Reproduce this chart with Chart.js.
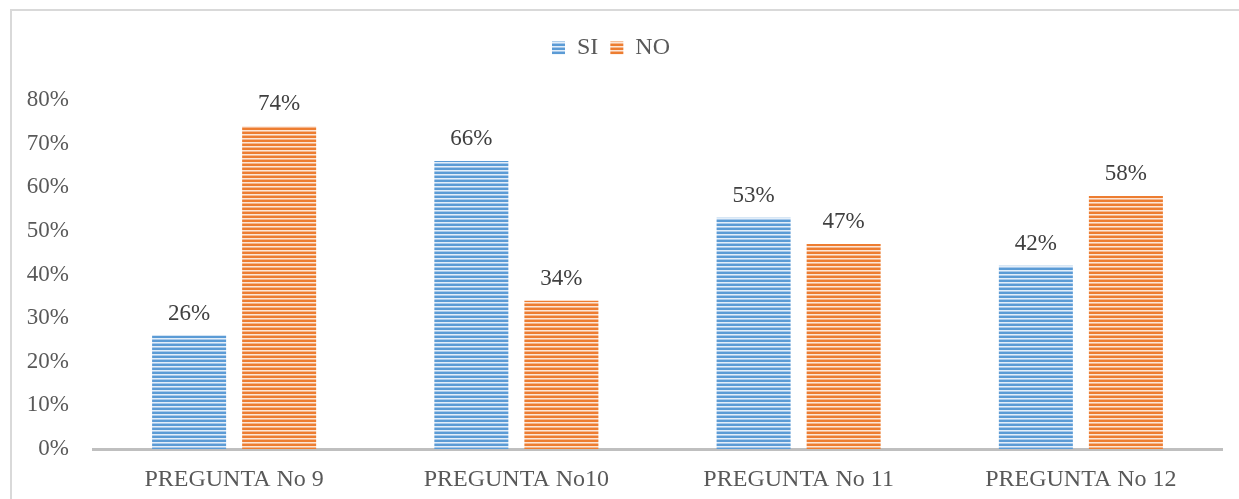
<!DOCTYPE html>
<html>
<head>
<meta charset="utf-8">
<script src="https://cdn.jsdelivr.net/npm/chart.js@4.4.1/dist/chart.umd.min.js"></script>
<style>
  html, body { margin: 0; padding: 0; background: #fff; overflow: hidden; }
  #frame {
    position: absolute; left: 10px; top: 9px; width: 1300px; height: 600px;
    border-left: 2px solid #d9d9d9; border-top: 2px solid #d9d9d9;
  }
  #wrap { position: absolute; left: 0; top: 0; width: 1239px; height: 499px; }
</style>
</head>
<body>
<div id="frame"></div>
<div id="wrap"><canvas id="chart"></canvas></div>
<script>
// --- Data ---
const categories = ['PREGUNTA No 9', 'PREGUNTA No10', 'PREGUNTA No 11', 'PREGUNTA No 12'];
const siValues = [26, 66, 53, 42];
const noValues = [74, 34, 47, 58];
const yTicks = [0, 10, 20, 30, 40, 50, 60, 70, 80];

const serif = '"Liberation Serif", "Times New Roman", serif';

/**
 * Builds a horizontal striped fill like the Excel pattern.
 */
function stripes(dark, mid, light) {
    const c = document.createElement('canvas');
    c.width = 4;
    c.height = 4;
    const g = c.getContext('2d');
    g.fillStyle = dark;
    g.fillRect(0, 0, 4, 2);
    g.fillStyle = light;
    g.fillRect(0, 2, 4, 1);
    g.fillStyle = mid;
    g.fillRect(0, 3, 4, 1);
    return g.createPattern(c, 'repeat');
}

const bluePattern = stripes('#5b9bd5', '#a6c8ea', '#e3eef9');
const orangePattern = stripes('#ed7d31', '#f5b68c', '#fce6d7');

// extra room under the legend so the plot starts lower
const legendGap = {
    id: 'legendGap',
    beforeInit(chart) {
        const fit = chart.legend.fit;
        chart.legend.fit = function () {
            fit.bind(chart.legend)();
            this.height += 30;
        };
    }
};

// value labels above each bar
const valueLabels = {
    id: 'valueLabels',
    afterDatasetsDraw(chart) {
        const ctx = chart.ctx;
        ctx.save();
        ctx.font = '23px ' + serif;
        ctx.fillStyle = '#404040';
        ctx.textAlign = 'center';
        ctx.textBaseline = 'alphabetic';
        chart.data.datasets.forEach((ds, i) => {
            chart.getDatasetMeta(i).data.forEach((bar, j) => {
                ctx.fillText(ds.data[j] + '%', bar.x, bar.y - 16);
            });
        });
        ctx.restore();
    }
};

new Chart(document.getElementById('chart'), {
    type: 'bar',
    data: {
        labels: categories,
        datasets: [
            { label: 'SI', data: siValues, backgroundColor: bluePattern },
            { label: 'NO', data: noValues, backgroundColor: orangePattern }
        ]
    },
    options: {
        responsive: true,
        maintainAspectRatio: false,
        animation: false,
        categoryPercentage: 0.638,
        barPercentage: 0.822,
        layout: { padding: { left: 0, right: 17, top: 24, bottom: 0 } },
        plugins: {
            tooltip: { enabled: false },
            legend: {
                position: 'top',
                labels: {
                    boxWidth: 13,
                    boxHeight: 13,
                    padding: 12,
                    color: '#595959',
                    font: { family: serif, size: 24 }
                }
            }
        },
        scales: {
            x: {
                afterFit: scale => { scale.height = 50; },
                grid: { display: false },
                border: { display: true, color: '#bfbfbf', width: 3 },
                ticks: { color: '#595959', padding: 8, font: { family: serif, size: 24 } }
            },
            y: {
                min: 0,
                max: 80,
                afterBuildTicks: scale => { scale.ticks = yTicks.map(v => ({ value: v })); },
                afterFit: scale => { scale.width = 93; },
                grid: { display: false },
                border: { display: false },
                ticks: {
                    color: '#595959',
                    padding: 16,
                    font: { family: serif, size: 23 },
                    callback: v => v + '%'
                }
            }
        }
    },
    plugins: [legendGap, valueLabels]
});
</script>
</body>
</html>
